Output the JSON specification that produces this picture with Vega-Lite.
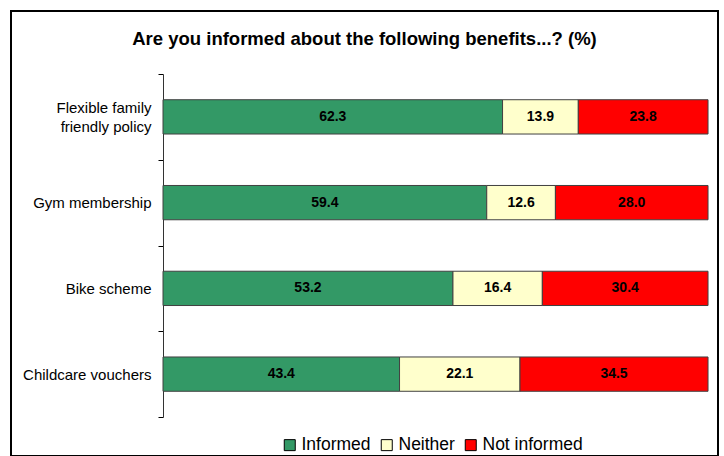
{
  "$schema": "https://vega.github.io/schema/vega-lite/v6.json",
  "width": 707,
  "height": 445,
  "autosize": {"type": "none"},
  "padding": {"left": 11, "top": 11, "right": 6, "bottom": 0},
  "background": "white",
  "title": {
    "text": "Are you informed about the following benefits...? (%)",
    "font": "Liberation Sans",
    "fontSize": 18.5,
    "fontWeight": "bold",
    "color": "#000",
    "anchor": "middle",
    "frame": "group",
    "offset": -44
  },
  "config": {
    "view": {"stroke": "#000", "strokeWidth": 2, "fill": "white"}
  },
  "data": {
    "values": [
      {"cat": "Flexible family friendly policy", "resp": "Informed", "v": 62.3},
      {"cat": "Flexible family friendly policy", "resp": "Neither", "v": 13.9},
      {"cat": "Flexible family friendly policy", "resp": "Not informed", "v": 23.8},
      {"cat": "Gym membership", "resp": "Informed", "v": 59.4},
      {"cat": "Gym membership", "resp": "Neither", "v": 12.6},
      {"cat": "Gym membership", "resp": "Not informed", "v": 28.0},
      {"cat": "Bike scheme", "resp": "Informed", "v": 53.2},
      {"cat": "Bike scheme", "resp": "Neither", "v": 16.4},
      {"cat": "Bike scheme", "resp": "Not informed", "v": 30.4},
      {"cat": "Childcare vouchers", "resp": "Informed", "v": 43.4},
      {"cat": "Childcare vouchers", "resp": "Neither", "v": 22.1},
      {"cat": "Childcare vouchers", "resp": "Not informed", "v": 34.5}
    ]
  },
  "transform": [
    {"stack": "v", "groupby": ["cat"], "sort": [{"field": "resp", "order": "ascending"}], "as": ["v0", "v1"]},
    {"calculate": "(datum.v0 + datum.v1) / 2", "as": "mid"}
  ],
  "encoding": {
    "y": {
      "field": "cat",
      "type": "nominal",
      "sort": null,
      "scale": {"range": [63, 406], "paddingInner": 0, "paddingOuter": 0},
      "axis": {
        "title": null,
        "offset": -152,
        "tickBand": "extent",
        "tickSize": 5,
        "tickColor": "#000",
        "domainColor": "#333",
        "labelPadding": 7,
        "labelFont": "Liberation Sans",
        "labelFontSize": 15,
        "labelColor": "#000",
        "labelLimit": 0,
        "labelLineHeight": 19,
        "labelOffset": {"condition": {"test": "datum.value == 'Flexible family friendly policy'", "value": -9.5}, "value": 0},
        "labelExpr": "datum.label == 'Flexible family friendly policy' ? ['Flexible family', 'friendly policy'] : datum.label"
      }
    }
  },
  "layer": [
    {
      "mark": {"type": "bar", "stroke": "#404040", "strokeWidth": 1, "height": {"band": 0.4}},
      "encoding": {
        "x": {"field": "v0", "type": "quantitative", "scale": {"domain": [-27.89, 101.83], "nice": false, "zero": false}, "axis": null},
        "x2": {"field": "v1"},
        "color": {
          "field": "resp",
          "type": "nominal",
          "scale": {"domain": ["Informed", "Neither", "Not informed"], "range": ["#339966", "#FFFFCC", "#FF0000"]},
          "legend": {
            "title": null,
            "orient": "none",
            "legendX": 270,
            "legendY": 425,
            "direction": "horizontal",
            "symbolType": "square",
            "symbolSize": 121,
            "symbolStrokeColor": "#000",
            "symbolStrokeWidth": 1,
            "symbolOpacity": 1,
            "labelFont": "Liberation Sans",
            "labelFontSize": 17.5,
            "labelColor": "#000",
            "labelOffset": 3,
            "columnPadding": 7,
            "padding": 0
          }
        }
      }
    },
    {
      "mark": {"type": "text", "font": "Liberation Sans", "fontSize": 14, "fontWeight": "bold", "color": "#000", "align": "center", "baseline": "middle"},
      "encoding": {
        "x": {"field": "mid", "type": "quantitative"},
        "text": {"field": "v", "type": "quantitative", "format": ".1f"}
      }
    }
  ]
}
